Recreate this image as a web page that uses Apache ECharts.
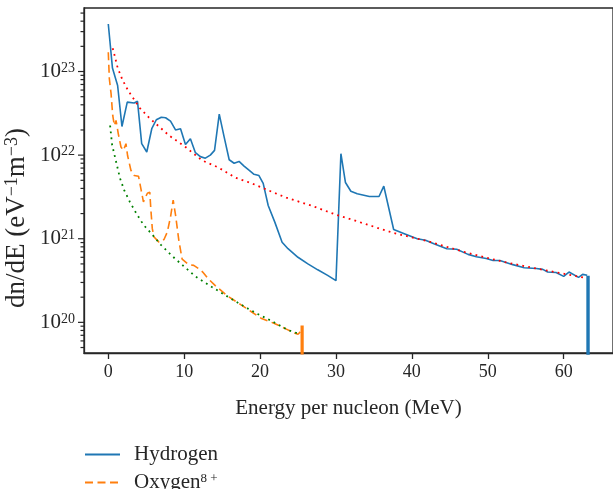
<!DOCTYPE html>
<html>
<head>
<meta charset="utf-8">
<script src="https://cdn.jsdelivr.net/npm/echarts@6/dist/echarts.min.js"></script>
<style>
  html, body { margin: 0; padding: 0; background: #fff; }
  #chart { width: 613px; height: 489px; }
</style>
</head>
<body>
<div id="chart"></div>
<script>
// Energy spectra per nucleon: [energy (MeV), dn/dE (eV^-1 m^-3)]
const hydrogen = [
  [0, 3.7e23], [0.55, 1.1e23], [1.23, 6.8e22], [1.8, 2.2e22], [2.5, 4.3e22],
  [3.4, 4.2e22], [3.85, 4.4e22], [4.4, 1.37e22], [5.07, 1.09e22], [5.73, 2.07e22],
  [6.33, 2.65e22], [6.99, 2.84e22], [7.55, 2.8e22], [8.2, 2.55e22], [8.86, 2.0e22],
  [9.52, 2.07e22], [10.17, 1.34e22], [10.82, 1.57e22], [11.48, 1.07e22], [12.13, 9.6e21],
  [12.79, 9.2e21], [13.44, 1.0e22], [14.0, 1.14e22], [14.62, 3.1e22], [15.27, 1.64e22],
  [15.93, 8.8e21], [16.58, 8.0e21], [17.23, 8.4e21], [17.89, 7.4e21], [18.54, 6.6e21],
  [19.2, 5.9e21], [19.85, 5.7e21], [20.41, 4.6e21], [21.07, 2.5e21], [21.94, 1.58e21],
  [22.9, 9.1e20], [23.68, 7.6e20], [24.99, 6.0e20], [26.3, 5.0e20], [27.6, 4.25e20],
  [28.9, 3.65e20], [30.0, 3.15e20], [30.65, 1.04e22], [31.25, 4.7e21], [31.96, 3.7e21],
  [32.8, 3.45e21], [34.4, 3.2e21], [35.67, 3.2e21], [36.3, 4.25e21], [37.6, 1.29e21],
  [39.0, 1.15e21], [40.7, 1.0e21], [41.8, 9.6e20], [42.9, 8.7e20], [44.6, 7.6e20],
  [45.9, 7.5e20], [47.4, 6.5e20], [48.5, 6.1e20], [49.8, 5.8e20], [50.7, 5.5e20],
  [51.6, 5.5e20], [53.3, 4.9e20], [54.8, 4.5e20], [56.4, 4.4e20], [57.25, 4.3e20],
  [57.9, 4.0e20], [59.0, 3.94e20], [60.0, 3.55e20], [60.7, 4.0e20], [61.96, 3.45e20],
  [62.5, 3.75e20], [63.1, 3.65e20]
];

const oxygen = [
  [0, 1.7e23], [0.14, 8.2e22], [0.37, 5.4e22], [0.58, 3.0e22], [0.8, 2.26e22],
  [1.02, 2.6e22], [1.32, 1.8e22], [1.67, 1.25e22], [2.0, 1.14e22], [2.33, 1.37e22],
  [2.54, 9.9e21], [2.98, 6.6e21], [3.41, 5.7e21], [3.98, 5.6e21], [4.29, 4.0e21],
  [4.63, 2.76e21], [5.15, 3.5e21], [5.47, 3.6e21], [5.6, 2.3e21], [5.8, 1.32e21],
  [6.03, 1.05e21], [6.68, 9.1e20], [7.34, 9.8e20], [7.77, 1.2e21], [8.2, 1.82e21],
  [8.55, 2.9e21], [8.87, 1.9e21], [9.3, 9.5e20], [9.73, 5.7e20], [10.6, 4.9e20],
  [11.26, 4.8e20], [11.9, 4.4e20], [12.44, 4.0e20], [13.2, 3.3e20], [14.1, 2.75e20],
  [15.6, 2.1e20], [17.4, 1.64e20], [18.9, 1.33e20], [20.2, 1.11e20], [21.9, 9.7e19],
  [23.46, 8.3e19], [24.47, 7.5e19], [25.0, 7.2e19], [25.3, 7.7e19]
];

// Smooth reference curves through each spectrum
const hydrogenFit = [
  [0.58, 1.9e23], [0.8, 1.6e23], [1.23, 1.11e23], [1.88, 7.9e22], [2.67, 5.8e22],
  [4.16, 3.65e22], [5.37, 2.8e22], [6.68, 2.2e22], [8.0, 1.72e22], [10.17, 1.25e22],
  [12.35, 8.65e21], [14.53, 7.1e21], [16.7, 5.4e21], [18.9, 4.6e21], [21.07, 3.8e21],
  [23.46, 3.1e21], [26.7, 2.5e21], [30.0, 1.94e21], [32.4, 1.66e21], [35.45, 1.35e21],
  [37.6, 1.17e21], [42.0, 9.4e20], [47.0, 6.9e20], [52.0, 5.3e20], [57.0, 4.3e20],
  [62.9, 3.4e20]
];

const oxygenFit = [
  [0.24, 2.26e22], [0.5, 1.33e22], [0.93, 9.1e21], [1.54, 5.3e21], [2.1, 3.8e21],
  [2.85, 2.75e21], [3.71, 2.0e21], [4.63, 1.47e21], [5.8, 1.12e21], [6.9, 8.5e20],
  [8.2, 6.5e20], [8.87, 5.7e20], [11.48, 3.55e20], [13.65, 2.65e20], [15.84, 2.0e20],
  [18.0, 1.53e20], [19.76, 1.25e20], [21.5, 1.04e20], [23.68, 8.1e19], [25.0, 7.35e19]
];

// Spectrum cut-offs: [energy, value at the edge]; the spectrum falls to zero there
const hydrogenCutoff = [63.21, 3.6e20];
const oxygenCutoff = [25.54, 9.2e19];
const FLOOR = 1e19;

const xTicks = [0, 10, 20, 30, 40, 50, 60];
const yDecades = [1e20, 1e21, 1e22, 1e23];
const yMinorSteps = [2, 3, 4, 5, 6, 7, 8, 9];

const X_MIN = -3.2, X_MAX = 66.5;
const Y_MIN = 4.3e19, Y_MAX = 5.75e23;

const FONT = '"Liberation Serif", "Times New Roman", serif';
const INK = '#262626';

// y tick marks: [x, value, isMajor]
const yTickMarks = [];
[1e19].concat(yDecades).forEach(d => {
  if (d >= Y_MIN && d <= Y_MAX) yTickMarks.push([X_MIN, d, 1]);
  yMinorSteps.forEach(k => {
    const v = k * d;
    if (v >= Y_MIN && v <= Y_MAX) yTickMarks.push([X_MIN, v, 0]);
  });
});

const chart = echarts.init(document.getElementById('chart'), null, { renderer: 'canvas' });

const lineBase = { type: 'line', showSymbol: false, symbol: 'none', animation: false, clip: true };

chart.setOption({
  animation: false,
  backgroundColor: '#fff',
  grid: {
    left: 84, top: 8, right: -4, bottom: 136,
    show: true, borderColor: INK, borderWidth: 1.3, backgroundColor: 'transparent'
  },
  legend: {
    orient: 'vertical',
    left: 84, top: 444, height: 80, padding: 0,
    itemWidth: 35, itemHeight: 14, itemGap: 7,
    data: ['Hydrogen', 'Oxygen8+'],
    itemStyle: { opacity: 0 },
    formatter: n => (n === 'Oxygen8+' ? 'Oxygen{s|8 +}' : n),
    textStyle: {
      fontFamily: FONT, fontSize: 21, color: INK, padding: [0, 0, 0, 9],
      rich: { s: { fontFamily: FONT, fontSize: 13, color: INK, verticalAlign: 'top' } }
    }
  },
  xAxis: {
    type: 'value', min: X_MIN, max: X_MAX,
    name: 'Energy per nucleon (MeV)', nameLocation: 'middle', nameGap: 45,
    nameTextStyle: { fontFamily: FONT, fontSize: 21, color: INK },
    axisLine: { show: true, onZero: false, lineStyle: { color: INK, width: 1.3 } },
    axisTick: { show: true, customValues: xTicks, length: 6, lineStyle: { color: INK, width: 1.3 } },
    axisLabel: { customValues: xTicks, margin: 10, fontFamily: FONT, fontSize: 18, color: INK },
    splitLine: { show: false }
  },
  yAxis: {
    type: 'log', logBase: 10, min: Y_MIN, max: Y_MAX,
    axisLine: { show: true, onZero: false, lineStyle: { color: INK, width: 1.3 } },
    axisTick: { show: false },
    axisLabel: {
      margin: 9, fontFamily: FONT, fontSize: 21, color: INK,
      formatter: v => {
        const e = Math.log10(v);
        if (Math.abs(e - Math.round(e)) > 1e-6) return '';
        return '{b|10}{s|' + Math.round(e) + '}';
      },
      rich: {
        b: { fontFamily: FONT, fontSize: 21, color: INK },
        s: { fontFamily: FONT, fontSize: 14, color: INK, verticalAlign: 'top' }
      }
    },
    splitLine: { show: false }
  },
  graphic: [{
    type: 'text',
    x: 17, y: 218, rotation: Math.PI / 2,
    style: {
      text: '{n|dn/dE (eV}{s|−1}{n|m}{s|−3}{n|)}',
      align: 'center', verticalAlign: 'middle',
      rich: {
        n: { fontFamily: FONT, fontSize: 27, fill: INK },
        s: { fontFamily: FONT, fontSize: 18, fill: INK, verticalAlign: 'top' }
      }
    }
  }],
  series: [
    Object.assign({}, lineBase, {
      name: 'Hydrogen', data: hydrogen, z: 3,
      lineStyle: { color: '#1f77b4', width: 1.6 }, itemStyle: { color: '#1f77b4' }
    }),
    Object.assign({}, lineBase, {
      name: 'Hydrogen cut-off', data: [hydrogenCutoff, [hydrogenCutoff[0], FLOOR]], z: 3,
      lineStyle: { color: '#1f77b4', width: 3.4, cap: 'butt' }
    }),
    Object.assign({}, lineBase, {
      name: 'Oxygen8+', data: oxygen, z: 3,
      lineStyle: { color: '#ff7f0e', width: 1.6, type: [8, 4.5] }, itemStyle: { color: '#ff7f0e' }
    }),
    Object.assign({}, lineBase, {
      name: 'Oxygen cut-off', data: [oxygenCutoff, [oxygenCutoff[0], FLOOR]], z: 3,
      lineStyle: { color: '#ff7f0e', width: 3.2, cap: 'butt' }
    }),
    Object.assign({}, lineBase, {
      name: 'Hydrogen fit', data: hydrogenFit, z: 4,
      lineStyle: { color: '#ff0000', width: 1.8, type: [1.8, 4.2] }
    }),
    Object.assign({}, lineBase, {
      name: 'Oxygen fit', data: oxygenFit, z: 4,
      lineStyle: { color: '#008000', width: 1.8, type: [1.8, 4.2] }
    }),
    {
      type: 'custom', name: 'y ticks', silent: true, clip: false, z: 6,
      data: yTickMarks, encode: { x: 0, y: 1 },
      renderItem: (params, api) => {
        const p = api.coord([api.value(0), api.value(1)]);
        const len = api.value(2) ? 6 : 3.5;
        return {
          type: 'line',
          shape: { x1: p[0] - len, y1: p[1], x2: p[0], y2: p[1] },
          style: { stroke: INK, lineWidth: 1.2 }
        };
      }
    }
  ]
});
</script>
</body>
</html>
